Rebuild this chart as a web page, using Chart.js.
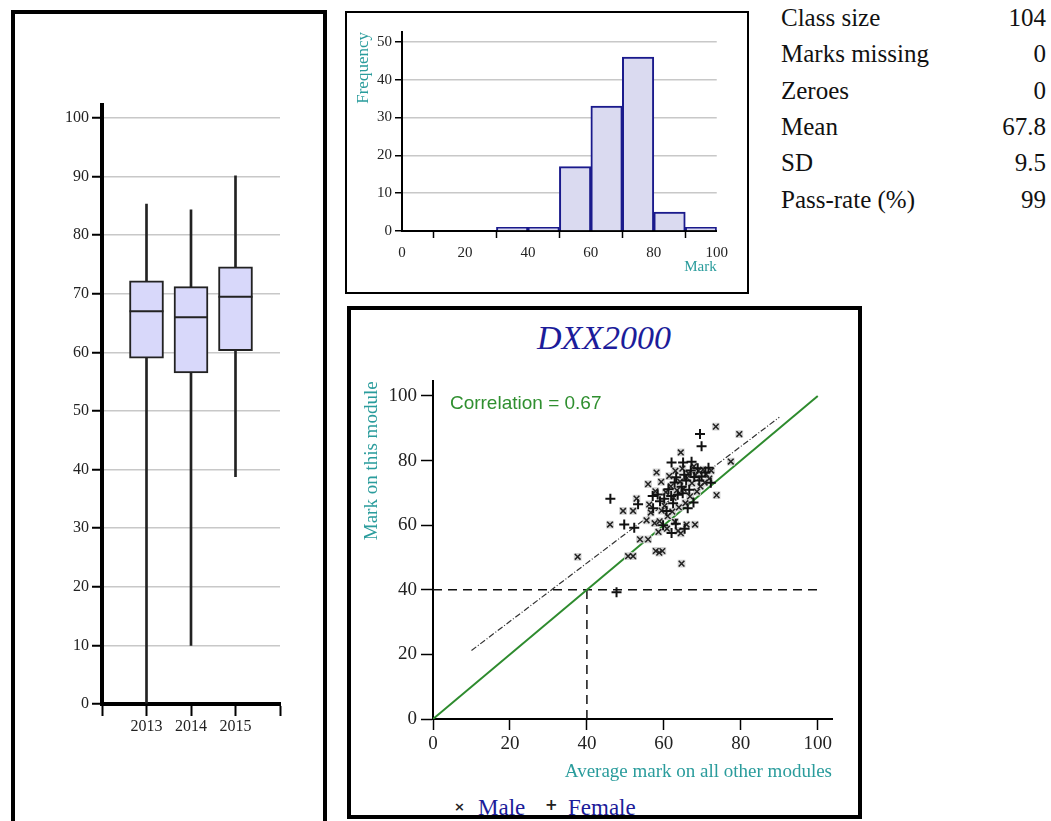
<!DOCTYPE html>
<html>
<head>
<meta charset="utf-8">
<script src="https://cdn.jsdelivr.net/npm/chart.js@4.4.1/dist/chart.umd.min.js"></script>
<style>
  body { margin: 0; background: #fff; width: 1051px; height: 821px; overflow: hidden; position: relative; font-family: 'Liberation Serif', serif; }
  .panel { position: absolute; box-sizing: border-box; border-style: solid; border-color: #000; overflow: hidden; }
  canvas { position: absolute; }
  .stat { position: absolute; font-size: 25px; line-height: 30px; color: #111; white-space: nowrap; }
  .legend { position: absolute; font-size: 23px; line-height: 23px; color: #1c1c9a; white-space: nowrap; }
  .mark { position: absolute; font-family: 'DejaVu Sans', sans-serif; color: #222; }
  .title { position: absolute; left: 504px; width: 200px; top: 317px; text-align: center; font-size: 34px; line-height: 42px; font-style: italic; color: #1c1c9a; }
</style>
</head>
<body>
<div class="panel" style="left:11px;top:10px;width:316px;height:830px;border-width:4px;"></div>
<div class="panel" style="left:345px;top:11px;width:404px;height:283px;border-width:2px;"></div>
<div class="panel" id="scatterPanel" style="left:347px;top:306px;width:515px;height:513px;border-width:4px;">
  <span class="mark" style="left:103px;top:489px;font-size:13px;font-weight:bold;">×</span>
  <span class="legend" style="left:127px;top:486px;">Male</span>
  <span class="mark" style="left:194px;top:486px;font-size:15px;font-weight:bold;">+</span>
  <span class="legend" style="left:217px;top:486px;">Female</span>
</div>
<div class="title">DXX2000</div>

<canvas id="boxChart" width="280" height="654" style="left:20px;top:86px;"></canvas>
<canvas id="histChart" width="384" height="256" style="left:350px;top:20px;"></canvas>
<canvas id="scatterChart" width="498" height="424" style="left:355px;top:366px;"></canvas>
<div id="stats"></div>

<script>
// ---- box plot, one entry per year ----
var years = ['2013', '2014', '2015'];
var boxMin = [0, 10, 38.8];
var boxQ1 = [59, 56.5, 60.3];
var boxMedian = [67, 66, 69.5];
var boxQ3 = [72.2, 71.2, 74.6];
var boxMax = [85.3, 84.3, 90.1];

// ---- histogram of marks ----
var binStart = [30, 40, 50, 60, 70, 80, 90];
var binCount = [1, 1, 17, 33, 46, 5, 1];

// ---- summary table ----
var statLabels = ['Class size', 'Marks missing', 'Zeroes', 'Mean', 'SD', 'Pass-rate (%)'];
var statValues = ['104', '0', '0', '67.8', '9.5', '99'];

// ---- scatter: [average on other modules, mark on this module] ----
var maleMarks = [
  [73.5, 90.5], [79.6, 88.2], [64.4, 82.5], [58.1, 76.3], [77.4, 79.7], [73.7, 69.3],
  [37.6, 50.2], [46.0, 60.2], [49.4, 64.4], [52.0, 64.4], [52.9, 68.2], [64.6, 48.1],
  [50.7, 50.4], [52.0, 50.4], [53.8, 55.6], [55.9, 55.6], [57.9, 52.0], [59.6, 52.0],
  [58.8, 51.5], [65.9, 60.2], [68.1, 60.2], [63.7, 58.2], [64.4, 57.5], [55.9, 72.7],
  [56.6, 63.9], [55.5, 61.5], [58.6, 57.9],
  [60.5, 70.2], [61.8, 72.0], [62.5, 68.5], [63.4, 70.8], [64.2, 73.5], [65.1, 71.2],
  [66.0, 74.6], [67.3, 73.0], [68.2, 75.5], [69.0, 76.8], [70.2, 77.2], [71.0, 75.8],
  [71.8, 74.4], [72.3, 76.9], [70.6, 73.2], [69.5, 72.0], [68.6, 70.4], [66.8, 68.9],
  [65.6, 66.8], [63.9, 65.5], [62.2, 64.2], [61.0, 62.8], [60.2, 66.0], [59.4, 64.5],
  [58.9, 61.2], [57.6, 60.6], [56.2, 66.4], [57.8, 70.5], [59.3, 73.4], [61.4, 75.2],
  [63.0, 76.8], [64.8, 77.5], [66.4, 76.0], [67.8, 78.2], [62.9, 61.0], [60.8, 58.9]
];
var femaleMarks = [
  [69.4, 88.2], [69.8, 84.4], [46.1, 68.2], [49.7, 60.2], [52.3, 59.2], [47.7, 39.2],
  [62.0, 79.4], [65.0, 79.4], [67.2, 79.6], [53.3, 66.5], [57.1, 69.0],
  [61.2, 71.1], [62.8, 73.2], [63.6, 69.4], [64.6, 71.9], [65.8, 73.8], [66.6, 71.0],
  [67.9, 74.9], [68.8, 77.6], [69.8, 75.1], [70.8, 76.3], [71.6, 77.8], [72.2, 73.1],
  [69.2, 73.8], [67.0, 76.9], [65.3, 75.6], [63.2, 74.8], [61.9, 69.0], [60.1, 68.2],
  [59.0, 67.4], [58.4, 69.5], [57.2, 65.2], [60.7, 64.4], [62.4, 66.8], [64.9, 69.9],
  [66.2, 65.2], [67.7, 67.0], [63.1, 60.4], [65.4, 58.9], [59.8, 60.0], [62.0, 57.6]
];
var fitLineX = [10, 90];
var fitLineY = [21.2, 93.4];
var passMark = 40;
var correlation = 0.67;

var serif = 'Liberation Serif';
var teal = '#2a9c9c';

// summary table as plain text
var stats = document.getElementById('stats');
statLabels.forEach(function (label, i) {
  var top = 3 + i * 36.3;
  stats.innerHTML += '<div class="stat" style="left:781px;top:' + top + 'px;">' + label + '</div>' +
    '<div class="stat" style="right:5px;top:' + top + 'px;">' + statValues[i] + '</div>';
});

// ---------- box plot ----------
var pad = function (arr) { return [null].concat(arr, [null]); };
new Chart(document.getElementById('boxChart'), {
  type: 'bar',
  data: {
    labels: pad(years).map(function (v) { return v || ''; }),
    datasets: [
      {
        type: 'line', data: pad(boxMedian), showLine: false, pointStyle: 'line',
        pointRadius: 17, pointBorderWidth: 2, pointBorderColor: '#222', order: 0
      },
      {
        data: pad(years.map(function (y, i) { return [boxQ1[i], boxQ3[i]]; })),
        backgroundColor: '#d8d8fa', borderColor: '#222', borderWidth: 2, borderSkipped: false,
        barThickness: 34, grouped: false, order: 1
      },
      {
        data: pad(years.map(function (y, i) { return [boxMin[i], boxMax[i]]; })),
        backgroundColor: '#222', barThickness: 2, grouped: false, order: 2
      }
    ]
  },
  options: {
    responsive: false, animation: false,
    layout: { padding: { top: 10, right: 20, left: 0, bottom: 0 } },
    plugins: { legend: { display: false }, tooltip: { enabled: false } },
    scales: {
      x: {
        offset: false,
        grid: { offset: false, drawOnChartArea: false, tickLength: 12, tickColor: '#000', tickWidth: 2 },
        border: { color: '#000', width: 4 },
        ticks: { color: '#222', font: { family: serif, size: 16 }, padding: 1, autoSkip: false, maxRotation: 0 },
        afterFit: function (s) { s.height = 36; }
      },
      y: {
        min: 0, max: 102.2,
        ticks: { stepSize: 10, includeBounds: false, color: '#222', font: { family: serif, size: 16 }, padding: 3 },
        grid: { color: '#c8c8c8', lineWidth: 1.5, tickColor: '#000', tickLength: 10, tickWidth: 2 },
        border: { color: '#000', width: 4 },
        afterFit: function (s) { s.width = 82; }
      }
    }
  }
});

// ---------- histogram ----------
new Chart(document.getElementById('histChart'), {
  type: 'bar',
  data: {
    datasets: [{
      data: binStart.map(function (s, i) { return { x: s + 5, y: binCount[i] }; }),
      backgroundColor: '#dadaf0', borderColor: '#1a1a8c', borderWidth: 2,
      barPercentage: 1, categoryPercentage: 1
    }]
  },
  options: {
    responsive: false, animation: false,
    layout: { padding: { top: 12, right: 13, left: 0, bottom: 0 } },
    plugins: { legend: { display: false }, tooltip: { enabled: false } },
    scales: {
      x: {
        type: 'linear', min: 0, max: 100, offset: false,
        ticks: { stepSize: 20, color: '#222', font: { family: serif, size: 15 }, padding: 6 },
        grid: { drawOnChartArea: false, tickLength: 7, tickColor: '#000', tickWidth: 1.5 },
        border: { color: '#000', width: 2 },
        title: { display: true, text: 'Mark', align: 'end', color: teal, font: { family: serif, size: 15 }, padding: 0 },
        afterFit: function (s) { s.height = 45; }
      },
      y: {
        min: 0, max: 52.6,
        ticks: { stepSize: 10, includeBounds: false, color: '#222', font: { family: serif, size: 15 }, padding: 3 },
        grid: { color: '#c8c8c8', lineWidth: 1.5, tickColor: '#000', tickLength: 7, tickWidth: 1.5 },
        border: { color: '#000', width: 2 },
        title: { display: true, text: 'Frequency', align: 'end', color: teal, font: { family: serif, size: 17 }, padding: { top: 3, bottom: 0 } },
        afterFit: function (s) { s.width = 52; }
      }
    }
  }
});

// ---------- scatter ----------
var corrLabel = {
  id: 'corrLabel',
  afterDatasetsDraw: function (chart) {
    var ctx = chart.ctx, xs = chart.scales.x, ys = chart.scales.y;
    ctx.save();
    ctx.font = '19px "Liberation Sans"';
    ctx.fillStyle = '#2f8f2f';
    ctx.textBaseline = 'middle';
    ctx.fillText('Correlation = ' + correlation.toFixed(2), xs.getPixelForValue(4.4), ys.getPixelForValue(97.5));
    ctx.restore();
  }
};
var toXY = function (p) { return { x: p[0], y: p[1] }; };

new Chart(document.getElementById('scatterChart'), {
  type: 'scatter',
  data: {
    datasets: [
      {
        data: femaleMarks.map(toXY), pointStyle: 'cross', pointRadius: 5,
        pointBorderColor: '#111', pointBorderWidth: 2
      },
      {
        data: maleMarks.map(toXY), pointStyle: 'crossRot', pointRadius: 4,
        pointBorderColor: '#222', pointBorderWidth: 1.5
      },
      {
        data: maleMarks.map(toXY), pointStyle: 'rect', pointRadius: 5.5,
        pointBackgroundColor: '#d4d4d4', pointBorderWidth: 0
      },
      {
        data: [{ x: 0, y: 0 }, { x: 100, y: 100 }], showLine: true, pointRadius: 0,
        borderColor: '#2e8b2e', borderWidth: 2
      },
      {
        data: fitLineX.map(function (x, i) { return { x: x, y: fitLineY[i] }; }), showLine: true, pointRadius: 0,
        borderColor: '#333', borderWidth: 1.2, borderDash: [6, 2, 1, 2]
      },
      {
        data: [{ x: 0, y: passMark }, { x: 100, y: passMark }], showLine: true, pointRadius: 0,
        borderColor: '#111', borderWidth: 1.5, borderDash: [9, 6]
      },
      {
        data: [{ x: passMark, y: 0 }, { x: passMark, y: passMark }], showLine: true, pointRadius: 0,
        borderColor: '#111', borderWidth: 1.5, borderDash: [9, 6]
      }
    ]
  },
  options: {
    responsive: false, animation: false,
    layout: { padding: { top: 0, right: 21, left: 0, bottom: 0 } },
    plugins: { legend: { display: false }, tooltip: { enabled: false } },
    scales: {
      x: {
        type: 'linear', min: 0, max: 103.7,
        ticks: { stepSize: 20, includeBounds: false, color: '#222', font: { family: serif, size: 19 }, padding: 3 },
        grid: { drawOnChartArea: false, tickLength: 11, tickColor: '#000', tickWidth: 1.5 },
        border: { color: '#000', width: 2 },
        title: { display: true, text: 'Average mark on all other modules', align: 'end', color: teal, font: { family: serif, size: 19 }, padding: { top: 0, bottom: 7 } },
        afterFit: function (s) { s.height = 71; }
      },
      y: {
        min: 0, max: 104.5,
        ticks: { stepSize: 20, includeBounds: false, color: '#222', font: { family: serif, size: 19 }, padding: 4 },
        grid: { drawOnChartArea: false, tickLength: 12, tickColor: '#000', tickWidth: 1.5 },
        border: { color: '#000', width: 2 },
        title: { display: true, text: 'Mark on this module', align: 'end', color: teal, font: { family: serif, size: 19 }, padding: { top: 6, bottom: 0 } },
        afterFit: function (s) { s.width = 78; }
      }
    }
  },
  plugins: [corrLabel]
});
</script>
</body>
</html>
